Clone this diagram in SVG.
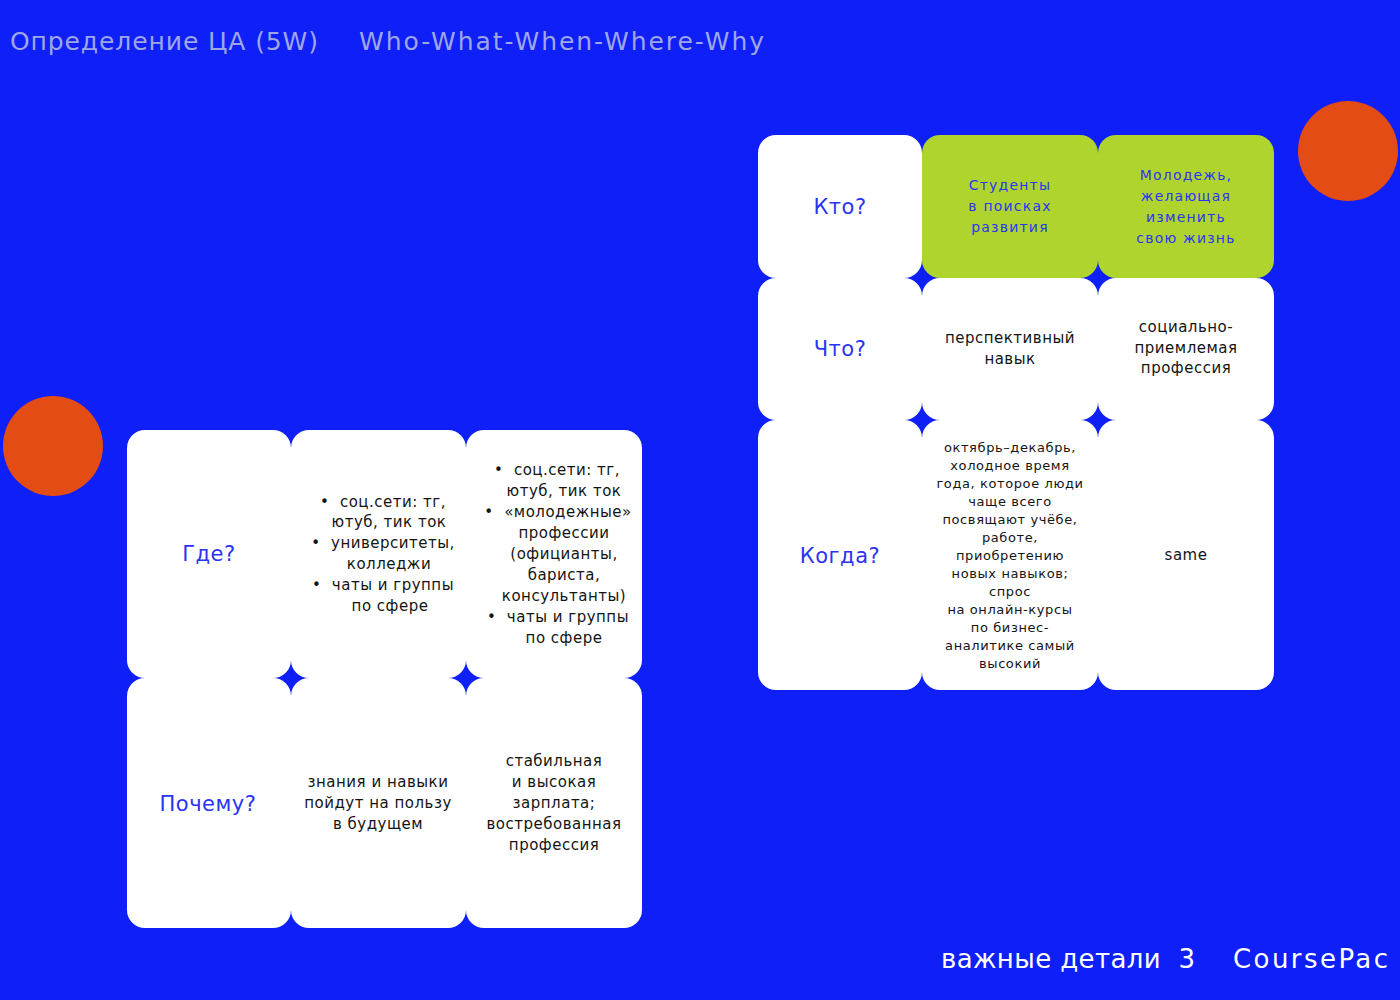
<svg xmlns="http://www.w3.org/2000/svg" width="1400" height="1000" viewBox="0 0 1400 1000">
<style>
.card{fill:#ffffff}
.green{fill:#afd42e}
.h{font-family:"DejaVu Sans","Liberation Sans",sans-serif;font-size:21px;fill:#2a34f2;text-anchor:middle;letter-spacing:0.5px}
.t{font-family:"DejaVu Sans","Liberation Sans",sans-serif;font-size:15px;fill:#141414;text-anchor:middle;letter-spacing:0.5px}
.g{font-family:"DejaVu Sans","Liberation Sans",sans-serif;font-size:14px;fill:#2a34f2;text-anchor:middle;letter-spacing:1.2px}
.s{font-family:"DejaVu Sans","Liberation Sans",sans-serif;font-size:13px;fill:#141414;text-anchor:middle;letter-spacing:0.6px}
.hdr{font-family:"DejaVu Sans","Liberation Sans",sans-serif;font-size:25px;fill:#9ea6e4}
.ftr{font-family:"DejaVu Sans","Liberation Sans",sans-serif;font-size:26px;fill:#ffffff}
.dot{fill:#e34c14}
</style>
<rect x="0" y="0" width="1400" height="1000" fill="#0f1ff8"/>
<g id="header">
<text class="hdr" x="10" y="50" textLength="308" lengthAdjust="spacing">Определение ЦА (5W)</text>
<text class="hdr" x="359" y="50" textLength="405" lengthAdjust="spacing">Who-What-When-Where-Why</text>
</g>
<circle class="dot" cx="1348" cy="151" r="50"/>
<circle class="dot" cx="53" cy="446" r="50"/>
<g id="connectors"></g>
<g id="who-label"><rect class="card" x="758" y="135" width="164" height="143" rx="18"/><text class="h" x="840" y="214">Кто?</text></g>
<g id="who-1"><rect class="green" x="922" y="135" width="176" height="143" rx="18"/>
<text class="g" x="1010" y="190">Студенты</text><text class="g" x="1010" y="211">в поисках</text><text class="g" x="1010" y="232">развития</text></g>
<g id="who-2"><rect class="green" x="1098" y="135" width="176" height="143" rx="18"/>
<text class="g" x="1186" y="180">Молодежь,</text><text class="g" x="1186" y="201">желающая</text><text class="g" x="1186" y="222">изменить</text><text class="g" x="1186" y="243">свою жизнь</text></g>
<g id="what-label"><rect class="card" x="758" y="278" width="164" height="142" rx="18"/><text class="h" x="840" y="356">Что?</text></g>
<g id="what-1"><rect class="card" x="922" y="278" width="176" height="142" rx="18"/>
<text class="t" x="1010" y="343">перспективный</text><text class="t" x="1010" y="364">навык</text></g>
<g id="what-2"><rect class="card" x="1098" y="278" width="176" height="142" rx="18"/>
<text class="t" x="1186" y="332">социально-</text><text class="t" x="1186" y="353">приемлемая</text><text class="t" x="1186" y="373">профессия</text></g>
<g id="when-label"><rect class="card" x="758" y="420" width="164" height="270" rx="18"/><text class="h" x="840" y="563">Когда?</text></g>
<g id="when-1"><rect class="card" x="922" y="420" width="176" height="270" rx="18"/>
<text class="s" x="1010" y="452">октябрь–декабрь,</text>
<text class="s" x="1010" y="470">холодное время</text>
<text class="s" x="1010" y="488">года, которое люди</text>
<text class="s" x="1010" y="506">чаще всего</text>
<text class="s" x="1010" y="524">посвящают учёбе,</text>
<text class="s" x="1010" y="542">работе,</text>
<text class="s" x="1010" y="560">приобретению</text>
<text class="s" x="1010" y="578">новых навыков;</text>
<text class="s" x="1010" y="596">спрос</text>
<text class="s" x="1010" y="614">на онлайн-курсы</text>
<text class="s" x="1010" y="632">по бизнес-</text>
<text class="s" x="1010" y="650">аналитике самый</text>
<text class="s" x="1010" y="668">высокий</text></g>
<g id="when-2"><rect class="card" x="1098" y="420" width="176" height="270" rx="18"/><text class="t" x="1186" y="560">same</text></g>
<g id="where-label"><rect class="card" x="127" y="430" width="164" height="248" rx="18"/><text class="h" x="209" y="561">Где?</text></g>
<g id="where-1"><rect class="card" x="291" y="430" width="175" height="248" rx="18"/>
<text class="t" x="383" y="507" xml:space="preserve">•  соц.сети: тг,</text>
<text class="t" x="389" y="527">ютуб, тик ток</text>
<text class="t" x="383" y="548" xml:space="preserve">•  университеты,</text>
<text class="t" x="389" y="569">колледжи</text>
<text class="t" x="383" y="590" xml:space="preserve">•  чаты и группы</text>
<text class="t" x="390" y="611">по сфере</text></g>
<g id="where-2"><rect class="card" x="466" y="430" width="176" height="248" rx="18"/>
<text class="t" x="557" y="475" xml:space="preserve">•  соц.сети: тг,</text>
<text class="t" x="564" y="496">ютуб, тик ток</text>
<text class="t" x="558" y="517" xml:space="preserve">•  «молодежные»</text>
<text class="t" x="564" y="538">профессии</text>
<text class="t" x="564" y="559">(официанты,</text>
<text class="t" x="564" y="580">бариста,</text>
<text class="t" x="564" y="601">консультанты)</text>
<text class="t" x="558" y="622" xml:space="preserve">•  чаты и группы</text>
<text class="t" x="564" y="643">по сфере</text></g>
<g id="why-label"><rect class="card" x="127" y="678" width="164" height="250" rx="18"/><text class="h" x="208" y="811">Почему?</text></g>
<g id="why-1"><rect class="card" x="291" y="678" width="175" height="250" rx="18"/>
<text class="t" x="378" y="787">знания и навыки</text><text class="t" x="378" y="808">пойдут на пользу</text><text class="t" x="378" y="829">в будущем</text></g>
<g id="why-2"><rect class="card" x="466" y="678" width="176" height="250" rx="18"/>
<text class="t" x="554" y="766">стабильная</text><text class="t" x="554" y="787">и высокая</text><text class="t" x="554" y="808">зарплата;</text><text class="t" x="554" y="829">востребованная</text><text class="t" x="554" y="850">профессия</text></g>
<g id="footer">
<text class="ftr" x="941" y="968" textLength="254" lengthAdjust="spacing" xml:space="preserve">важные детали  3</text>
<text class="ftr" x="1233" y="968" textLength="155" lengthAdjust="spacing">CoursePac</text>
</g>
</svg>
